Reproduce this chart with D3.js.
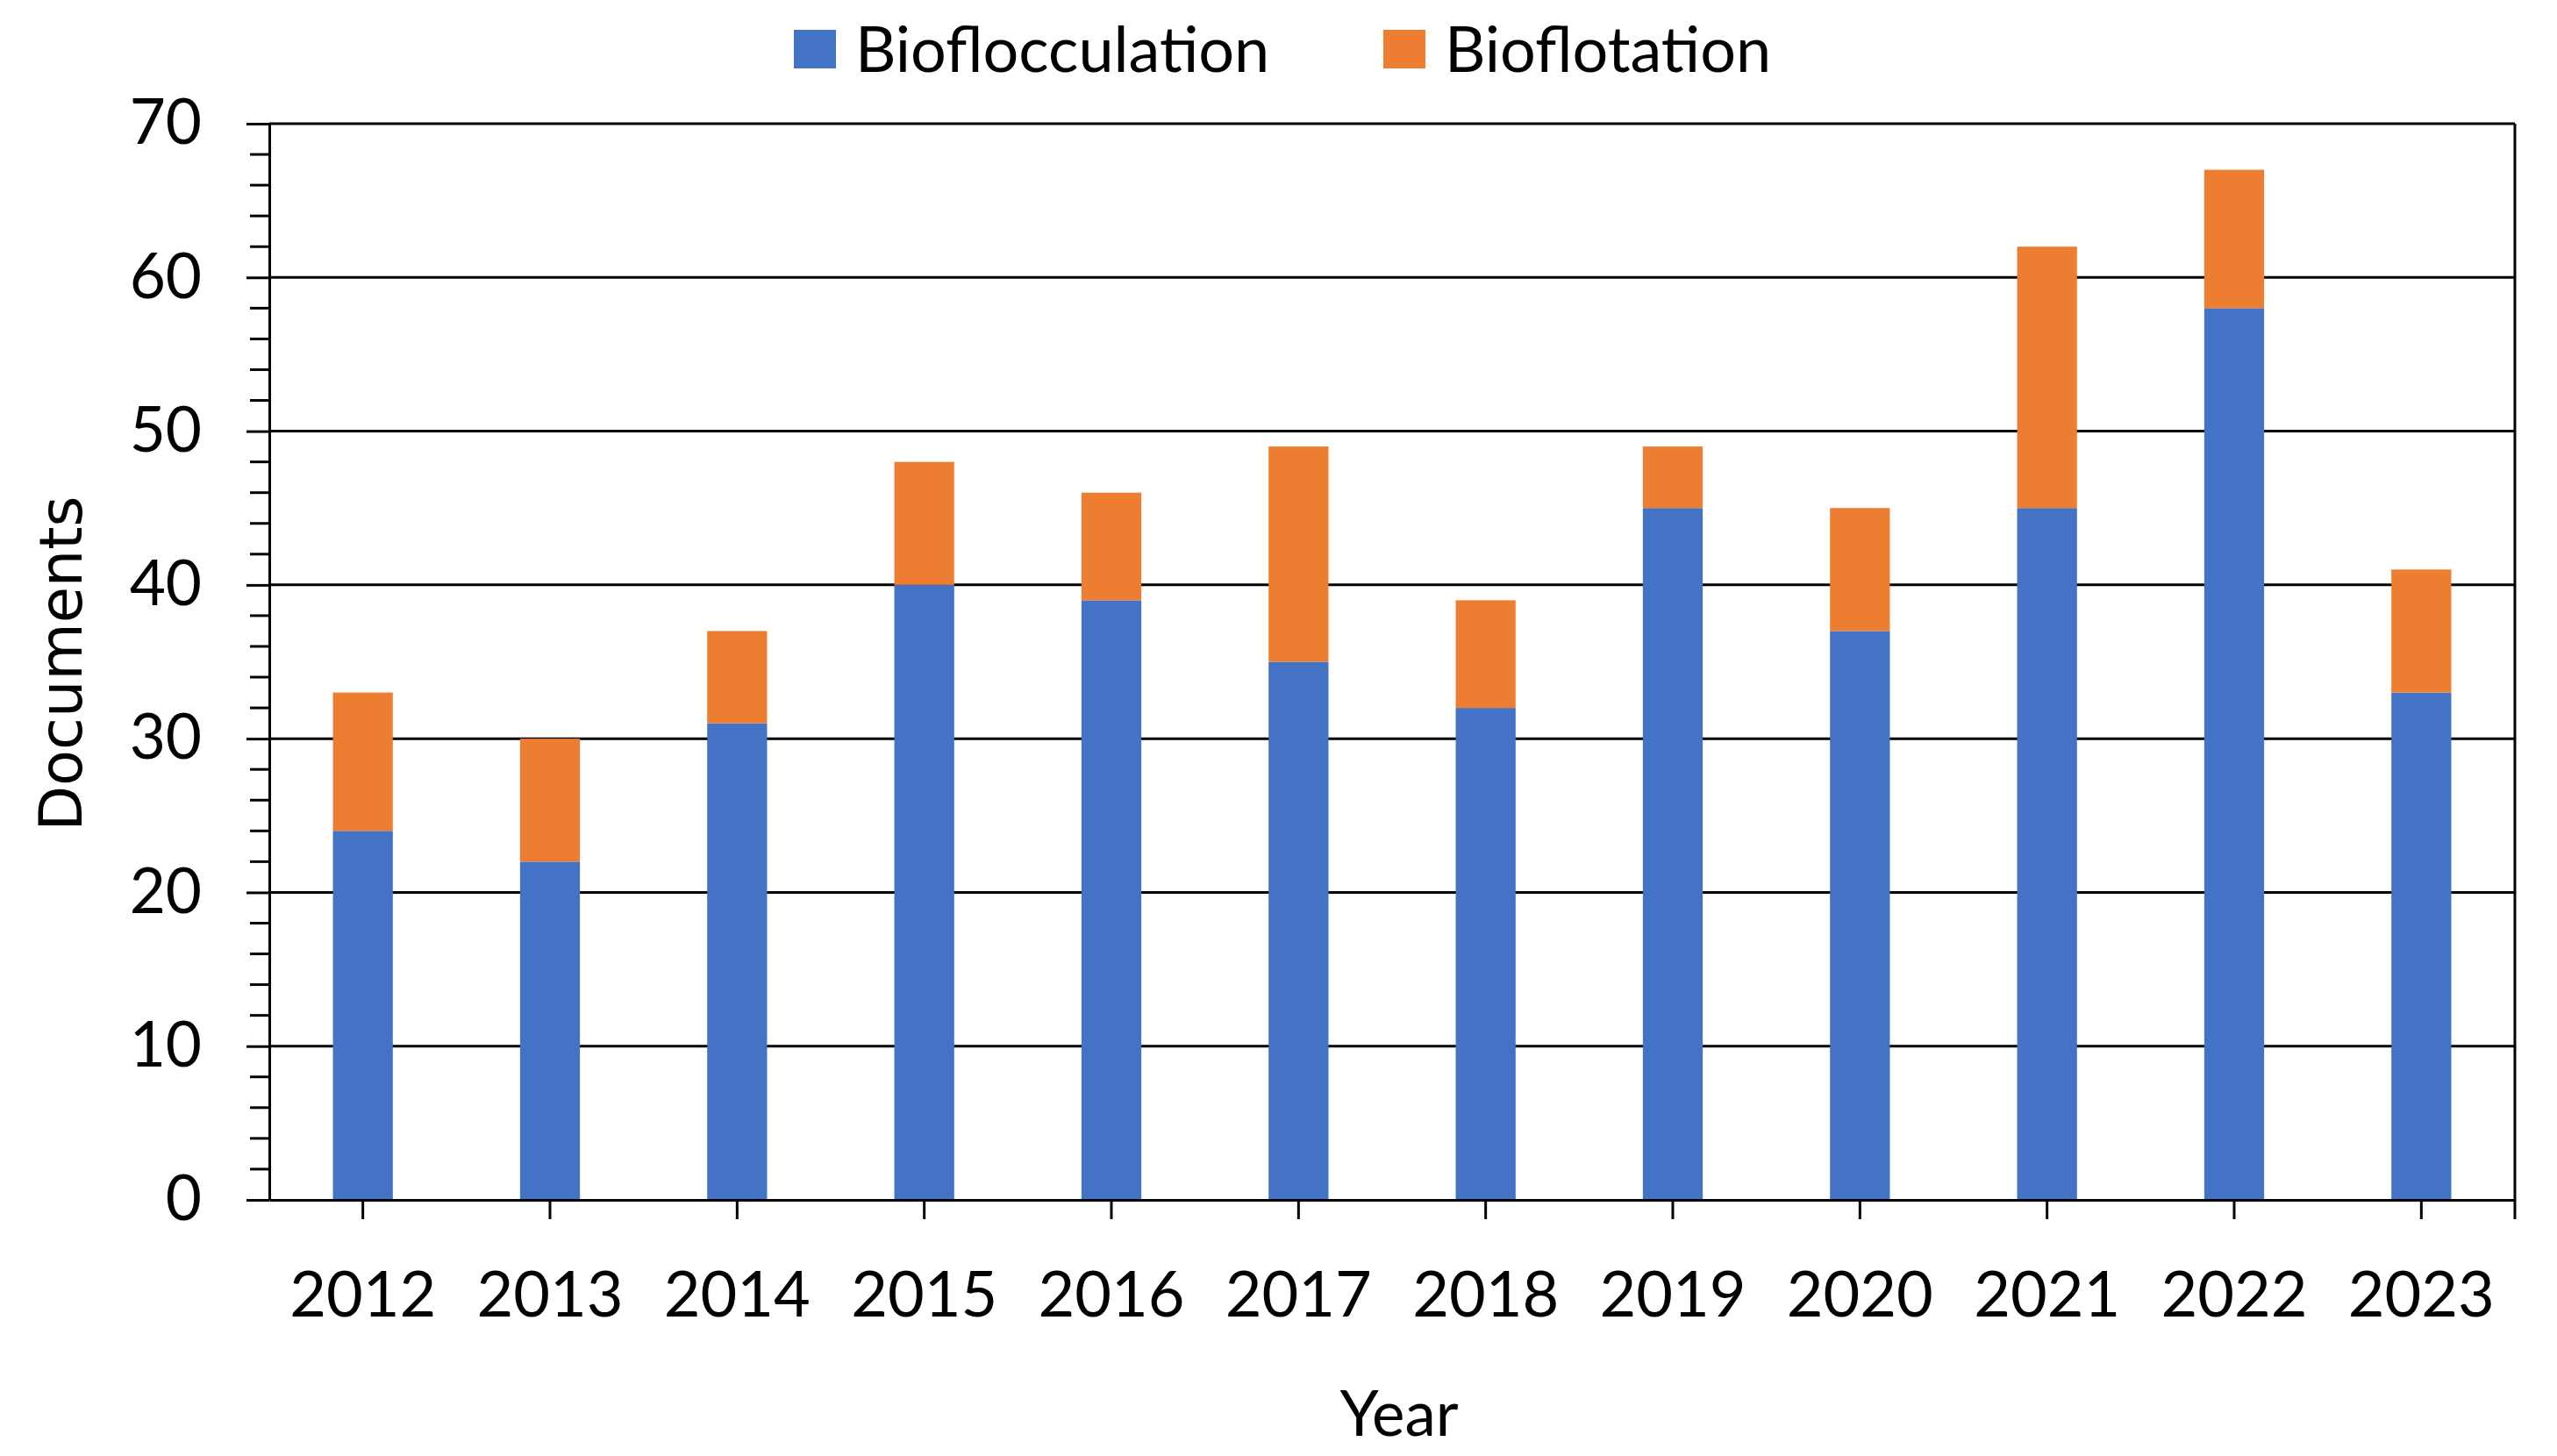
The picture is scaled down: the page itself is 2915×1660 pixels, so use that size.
<!DOCTYPE html>
<html>
<head>
<meta charset="utf-8">
<script src="https://cdn.jsdelivr.net/npm/d3@7"></script>
<style>
  body { margin: 0; background: #fff; }
  svg { display: block; }
</style>
</head>
<body>
<svg></svg>
<script>
// chart data
var years = ['2012', '2013', '2014', '2015', '2016', '2017', '2018', '2019', '2020', '2021', '2022', '2023'];
var bioflocculation = [24, 22, 31, 40, 39, 35, 32, 45, 37, 45, 58, 33];
var bioflotation = [9, 8, 6, 8, 7, 14, 7, 4, 8, 17, 9, 8];
var seriesNames = ['Bioflocculation', 'Bioflotation'];
var seriesColors = ['#4472C4', '#ED7D31'];
var yTicks = [0, 10, 20, 30, 40, 50, 60, 70];

var svgWidth = 2915, svgHeight = 1660;
var margin = { top: 141, right: 48, bottom: 292, left: 307 };
var width = svgWidth - margin.left - margin.right;
var height = svgHeight - margin.top - margin.bottom;
var tickFont = 'Lato, Calibri, Carlito, sans-serif';

var svg = d3.select('svg')
    .attr('width', svgWidth)
    .attr('height', svgHeight);

var g = svg.append('g')
    .attr('transform', 'translate(' + margin.left + ',' + margin.top + ')');

// table for the stack layout
var table = years.map(function(y, i) {
    return { year: y, Bioflocculation: bioflocculation[i], Bioflotation: bioflotation[i] };
});
var stacked = d3.stack().keys(seriesNames)(table);

var x = d3.scaleBand()
    .domain(years)
    .range([0, width])
    .paddingInner(0.68)
    .paddingOuter(0.34);

var y = d3.scaleLinear()
    .domain([0, 70])
    .range([height, 0]);

// gridlines
g.append('g')
    .selectAll('line')
    .data(yTicks.slice(1))
    .join('line')
    .attr('x1', 0)
    .attr('x2', width)
    .attr('y1', function(d) { return y(d); })
    .attr('y2', function(d) { return y(d); })
    .attr('stroke', '#000')
    .attr('stroke-width', 3);

// bars
g.append('g')
    .selectAll('g')
    .data(stacked)
    .join('g')
    .attr('fill', function(d, i) { return seriesColors[i]; })
    .selectAll('rect')
    .data(function(d) { return d; })
    .join('rect')
    .attr('x', function(d) { return x(d.data.year); })
    .attr('y', function(d) { return y(d[1]); })
    .attr('width', x.bandwidth())
    .attr('height', function(d) { return y(d[0]) - y(d[1]); });

// right border
g.append('line')
    .attr('x1', width).attr('x2', width)
    .attr('y1', 0).attr('y2', height + 22)
    .attr('stroke', '#000')
    .attr('stroke-width', 3);

// y axis with minor ticks every 2
var minor = d3.range(0, 71, 2).filter(function(v) { return v % 10 !== 0; });
g.append('g')
    .selectAll('line')
    .data(minor)
    .join('line')
    .attr('x1', -22).attr('x2', 0)
    .attr('y1', function(d) { return y(d); })
    .attr('y2', function(d) { return y(d); })
    .attr('stroke', '#000')
    .attr('stroke-width', 3);

var yAxis = g.append('g')
    .call(d3.axisLeft(y).tickValues(yTicks).tickSize(26).tickPadding(51).tickSizeOuter(0));
yAxis.select('.domain').attr('stroke-width', 3);
yAxis.selectAll('.tick line').attr('stroke-width', 3);
yAxis.selectAll('.tick text')
    .attr('font-family', tickFont)
    .attr('font-size', 71)
    .attr('fill', '#000');

// x axis
var xAxis = g.append('g')
    .attr('transform', 'translate(0,' + height + ')')
    .call(d3.axisBottom(x).tickSize(22).tickPadding(60).tickSizeOuter(0));
xAxis.select('.domain').attr('stroke-width', 3);
xAxis.selectAll('.tick line').attr('stroke-width', 3);
xAxis.selectAll('.tick text')
    .attr('font-family', tickFont)
    .attr('font-size', 72)
    .attr('fill', '#000');

// axis titles
svg.append('text')
    .attr('transform', 'translate(93,' + (margin.top + height / 2 + 2) + ') rotate(-90)')
    .attr('text-anchor', 'middle')
    .attr('font-family', 'DejaVu Sans, Verdana, sans-serif')
    .attr('font-size', 67)
    .attr('fill', '#000')
    .text('Documents');

svg.append('text')
    .attr('x', 1595)
    .attr('y', 1637)
    .attr('text-anchor', 'middle')
    .attr('font-family', tickFont)
    .attr('font-size', 71)
    .attr('fill', '#000')
    .text('Year');

// legend
var legendX = [905, 1577];
var legend = svg.append('g')
    .selectAll('g')
    .data(seriesNames)
    .join('g')
    .attr('transform', function(d, i) { return 'translate(' + legendX[i] + ',34)'; });
legend.append('rect')
    .attr('width', 48)
    .attr('height', 44)
    .attr('fill', function(d, i) { return seriesColors[i]; });
legend.append('text')
    .attr('x', 70)
    .attr('y', 48)
    .attr('font-family', tickFont)
    .attr('font-size', 72)
    .attr('fill', '#000')
    .text(function(d) { return d; });
</script>
</body>
</html>
